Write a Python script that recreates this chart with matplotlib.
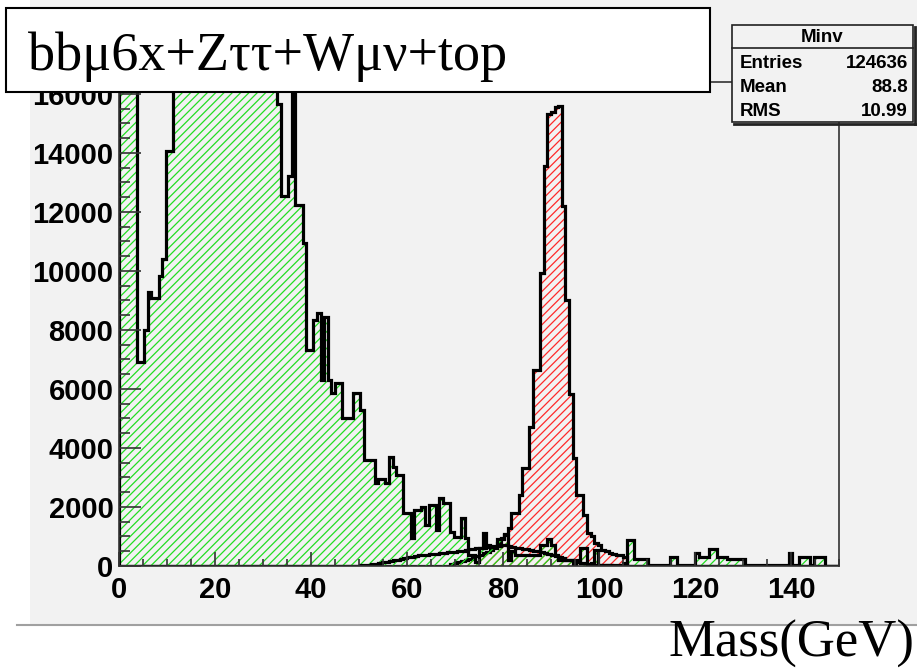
import numpy as np
import matplotlib.pyplot as plt
from matplotlib.patches import Rectangle
from matplotlib.lines import Line2D
from matplotlib.ticker import MultipleLocator

W, H = 917, 669

# 200 bins of 0.75 GeV between 0 and 150 GeV
edges = np.linspace(0, 150, 201)

# bbmu6x sample (green hatched)
green_counts = [
    60000, 48000, 38000, 30000, 24000, 6925, 6925, 8000, 9300, 9075,
    9075, 9810, 10400, 14050, 14050, 19000, 22000, 25000, 27000, 29000,
    30000, 31000, 31500, 32000, 32000, 31500, 31000, 30000, 29000, 28000,
    27000, 26000, 25000, 24000, 23000, 22000, 21000, 20500, 20000, 19500,
    19000, 18500, 18000, 17000, 15650, 12550, 12550, 13230, 17500, 12240,
    12240, 10940, 7320, 7320, 8340, 8570, 6300, 8450, 6300, 5850,
    6210, 6210, 5010, 5010, 5010, 5850, 5850, 5290, 3590, 3590,
    3590, 2800, 2940, 2940, 2800, 3700, 3370, 3090, 3090, 1790,
    1790, 940, 1900, 1900, 2010, 1390, 2070, 2070, 1220, 2300,
    2130, 2130, 1160, 990, 990, 1620, 940, 370, 370, 150,
    600, 1110, 710, 660, 660, 900, 900, 1050, 200, 500,
    370, 370, 370, 370, 370, 370, 370, 700, 700, 900,
    700, 370, 200, 200, 200, 200, 0, 200, 600, 600,
    0, 100, 550, 30, 30, 30, 30, 30, 30, 30,
    100, 880, 880, 240, 240, 240, 240, 40, 40, 40,
    40, 40, 40, 315, 315, 40, 40, 40, 40, 40,
    440, 315, 315, 315, 575, 575, 315, 315, 315, 240,
    240, 240, 240, 240, 30, 30, 30, 30, 30, 30,
    30, 30, 30, 30, 30, 30, 440, 30, 30, 315,
    315, 315, 30, 315, 315, 315, 0, 0, 0, 0,
]

# Z -> mumu sample (red hatched)
red_counts = [
    0, 0, 0, 0, 0, 0, 0, 0, 0, 0,
    0, 0, 0, 0, 0, 0, 0, 0, 0, 0,
    0, 0, 0, 0, 0, 0, 0, 0, 0, 0,
    0, 0, 0, 0, 0, 0, 0, 0, 0, 0,
    0, 0, 0, 0, 0, 0, 0, 0, 0, 0,
    0, 0, 0, 0, 0, 0, 0, 0, 0, 0,
    0, 0, 0, 0, 0, 0, 0, 0, 0, 0,
    0, 0, 0, 0, 0, 0, 0, 0, 0, 0,
    0, 0, 0, 0, 0, 0, 0, 0, 0, 0,
    0, 0, 80, 100, 130, 160, 200, 240, 280, 330,
    380, 430, 480, 540, 620, 780, 950, 1100, 1280, 1790,
    1790, 2410, 3310, 3310, 4720, 6640, 6640, 9940, 13540, 15300,
    15400, 15550, 15600, 12200, 9020, 5830, 3650, 2410, 2410, 1730,
    1110, 1000, 770, 700, 540, 500, 450, 400, 370, 370,
    300, 0, 0, 0, 0, 0, 0, 0, 0, 0,
    0, 0, 0, 0, 0, 0, 0, 0, 0, 0,
    0, 0, 0, 0, 0, 0, 0, 0, 0, 0,
    0, 0, 0, 0, 0, 0, 0, 0, 0, 0,
    0, 0, 0, 0, 0, 0, 0, 0, 0, 0,
    0, 0, 0, 0, 0, 0, 0, 0, 0, 0,
]

# W/top contribution (outline only)
wtop_counts = [
    0, 0, 0, 0, 0, 0, 0, 0, 0, 0,
    0, 0, 0, 0, 0, 0, 0, 0, 0, 0,
    0, 0, 0, 0, 0, 0, 0, 0, 0, 0,
    0, 0, 0, 0, 0, 0, 0, 0, 0, 0,
    0, 0, 0, 0, 0, 0, 0, 0, 0, 0,
    0, 0, 0, 0, 0, 0, 0, 0, 0, 0,
    0, 0, 0, 0, 0, 0, 0, 20, 30, 40,
    60, 80, 100, 120, 140, 160, 190, 220, 250, 270,
    300, 320, 340, 360, 370, 380, 390, 400, 420, 440,
    450, 470, 480, 490, 500, 520, 540, 560, 580, 600,
    610, 620, 640, 650, 670, 690, 700, 700, 680, 650,
    620, 600, 580, 560, 540, 520, 500, 480, 450, 420,
    380, 340, 300, 260, 220, 190, 160, 130, 110, 90,
    70, 60, 50, 40, 30, 30, 20, 0, 0, 0,
    0, 0, 0, 0, 0, 0, 0, 0, 0, 0,
    0, 0, 0, 0, 0, 0, 0, 0, 0, 0,
    0, 0, 0, 0, 0, 0, 0, 0, 0, 0,
    0, 0, 0, 0, 0, 0, 0, 0, 0, 0,
    0, 0, 0, 0, 0, 0, 0, 0, 0, 0,
    0, 0, 0, 0, 0, 0, 0, 0, 0, 0,
]

xticks = [0, 20, 40, 60, 80, 100, 120, 140]
yticks = [0, 2000, 4000, 6000, 8000, 10000, 12000, 14000, 16000]
title_text = "bbμ6x+Zττ+Wμν+top"
xlabel_text = "Mass(GeV)"
stats_name = "Minv"
stats_labels = ["Entries", "Mean", "RMS"]
stats_values = ["124636", "88.8", "10.99"]

plt.rcParams['font.family'] = ['Liberation Sans', 'DejaVu Sans']
plt.rcParams['hatch.linewidth'] = 0.9


def fx(x):
    return x / W


def fy(y):
    return 1 - y / H


fig = plt.figure(figsize=(W / 100, H / 100), dpi=100)
fig.patch.set_facecolor('white')

# grey ROOT canvas behind the plot
fig.add_artist(Rectangle((fx(30), fy(624)), fx(917) - fx(30), fy(0) - fy(624),
                         facecolor='#f2f2f2', edgecolor='none', zorder=-10))
fig.add_artist(Line2D([fx(17), fx(917)], [fy(625), fy(625)], color='#a0a0a0', lw=1.5))

ax = fig.add_axes([fx(119), fy(566), fx(839) - fx(119), fy(82) - fy(566)])
ax.set_facecolor('#f2f2f2')

green = '#22dd22'
red = '#ff2a2a'

ax.stairs(red_counts, edges, fill=True, facecolor='none', edgecolor=red,
          hatch='////', linewidth=0)
ax.stairs(red_counts, edges, color='black', linewidth=2.3)
ax.stairs(green_counts, edges, fill=True, facecolor='none', edgecolor=green,
          hatch='////', linewidth=0)
ax.stairs(green_counts, edges, color='black', linewidth=2.3)
ax.stairs(wtop_counts, edges, color='black', linewidth=2.3)

ax.set_xlim(0, 150)
ax.set_ylim(0, 16400)
ax.set_xticks(xticks)
ax.set_yticks(yticks)
ax.xaxis.set_minor_locator(MultipleLocator(5))
ax.yaxis.set_minor_locator(MultipleLocator(500))
ax.tick_params(which='both', direction='in', width=1.2, color='#333333')
ax.tick_params(axis='y', which='major', length=16, pad=4, labelsize=21)
ax.tick_params(axis='y', which='minor', length=8)
ax.tick_params(axis='x', which='major', length=10, pad=7, labelsize=21)
ax.tick_params(axis='x', which='minor', length=5)
plt.setp(ax.get_xticklabels() + ax.get_yticklabels(), fontweight='bold')
for sp in ax.spines.values():
    sp.set_linewidth(1.2)
    sp.set_color('#333333')

# title box overlay
fig.add_artist(Rectangle((fx(6), fy(92)), fx(710) - fx(6), fy(8) - fy(92),
                         facecolor='white', edgecolor='black', lw=1.5, zorder=5))
fig.text(fx(28), fy(70), title_text, family=['Liberation Serif', 'DejaVu Serif'],
         size=39, va='baseline', ha='left', zorder=6)

# stats box
fig.add_artist(Line2D([fx(915), fx(915)], [fy(27), fy(124)], color='#222222', lw=2, zorder=5))
fig.add_artist(Line2D([fx(734), fx(915)], [fy(124), fy(124)], color='#222222', lw=2, zorder=5))
fig.add_artist(Rectangle((fx(732), fy(122)), fx(913) - fx(732), fy(25) - fy(122),
                         facecolor='#f2f2f2', edgecolor='#222222', lw=1.2, zorder=5))
fig.add_artist(Line2D([fx(732), fx(913)], [fy(48), fy(48)], color='#222222', lw=1.2, zorder=6))
fig.text(fx(822), fy(37), stats_name, ha='center', va='center', size=13.5,
         fontweight='bold', zorder=7)
for i, (lab, val) in enumerate(zip(stats_labels, stats_values)):
    yy = [63, 88, 111][i]
    fig.text(fx(740), fy(yy), lab, ha='left', va='center', size=13.5,
             fontweight='bold', zorder=7)
    fig.text(fx(908), fy(yy), val, ha='right', va='center', size=13.5,
             fontweight='bold', zorder=7)

fig.text(fx(915), fy(657), xlabel_text, family=['Liberation Serif', 'DejaVu Serif'],
         size=38, ha='right', va='baseline')

fig.savefig('out.png', dpi=100)
